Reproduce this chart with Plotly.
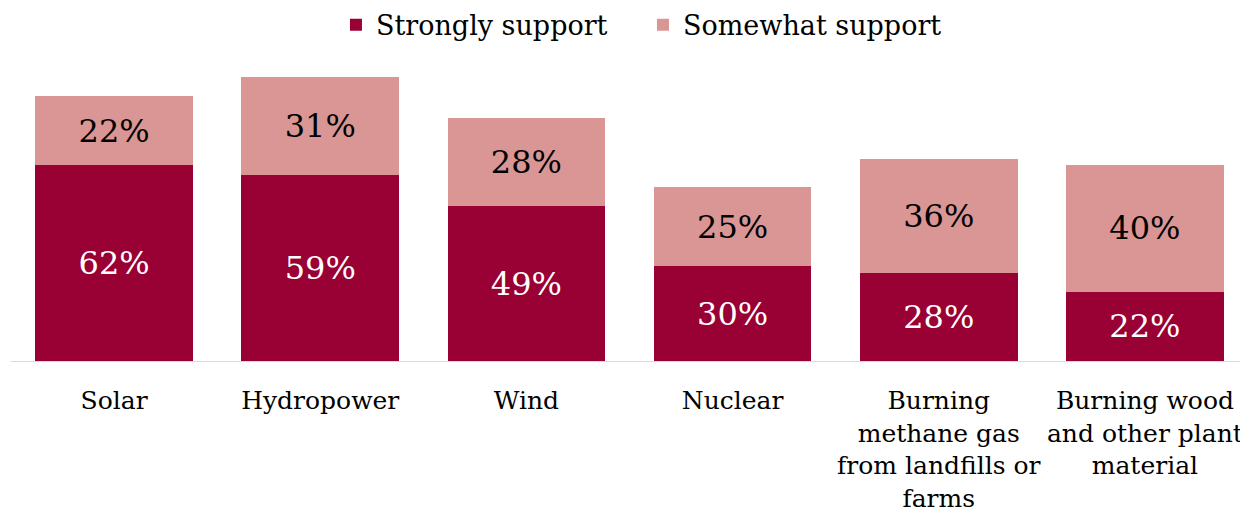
import plotly.graph_objects as go

categories = ["Solar", "Hydropower", "Wind", "Nuclear",
              "Burning<br>methane gas<br>from landfills or<br>farms",
              "Burning wood<br>and other plant<br>material"]
strongly = [62, 59, 49, 30, 28, 22]
somewhat = [22, 31, 28, 25, 36, 40]

FONT = "DejaVu Serif"
DARK = "#990033"
LIGHT = "#D99694"

fig = go.Figure()
fig.add_trace(go.Bar(
    x=categories, y=strongly, name="Strongly support",
    marker=dict(color=DARK, line=dict(width=0)),
    text=[f"{v}%" for v in strongly], textposition="inside",
    insidetextanchor="middle", textangle=0,
    textfont=dict(family=FONT, size=32, color="white"),
))
fig.add_trace(go.Bar(
    x=categories, y=somewhat, name="Somewhat support",
    marker=dict(color=LIGHT, line=dict(width=0)),
    text=[f"{v}%" for v in somewhat], textposition="inside",
    insidetextanchor="middle", textangle=0,
    textfont=dict(family=FONT, size=32, color="black"),
))

# page body has an 8px margin; figure is sized/placed to compensate
fig.update_layout(
    barmode="stack",
    bargap=0.235,
    width=1240, height=507,
    margin=dict(l=3, r=0, t=52, b=154, autoexpand=False),
    paper_bgcolor="white", plot_bgcolor="white",
    font=dict(family=FONT, size=25, color="black"),
    showlegend=True,
    legend=dict(orientation="h", x=0.2627, xanchor="left", y=1.116, yanchor="middle",
                font=dict(family=FONT, size=27), traceorder="normal",
                entrywidth=262, entrywidthmode="pixels"),
    xaxis=dict(showline=True, linecolor="#D9D9D9", linewidth=1, ticks="",
               tickfont=dict(family=FONT, size=25), showgrid=False,
               automargin=False, ticklabelstandoff=17),
    yaxis=dict(range=[0, 95.4], visible=False, showgrid=False, automargin=False),
)

fig.write_html("out.html")
